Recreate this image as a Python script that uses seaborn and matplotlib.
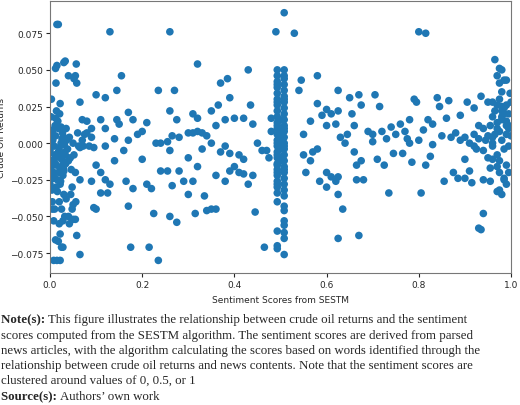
import matplotlib
matplotlib.use("Agg")
import matplotlib.pyplot as plt
import seaborn as sns
import pandas as pd

# left cluster (scores near 0)
left_x = [0.015,0.018,0.003,0.012,0.015,0.03,0.033,0.04,0.057,0.055,0.052,0.058,0.013,0.022,0.065,0.005,0.008,0.01,0.012,0.018,0.008,0.015,0.022,0.025,0.028,0.022,0.02,0.028,0.032,0.025,0.04,0.042,0.05,0.055,0.058,0.065,0.048,0.05,0.056,0.045,0.048,0.035,0.02,0.005,0.03,0.065,
          0.0,0.002,0.004,0.006,0.008,0.01,0.012,0.014,0.016,0.018,0.02,0.022,0.024,0.026,0.028,0.03,0.032,0.034,0.036,0.038,0.04,0.0,0.003,0.005,0.007,0.009,0.011,0.013,0.015,0.017,0.019,0.021,0.023,0.025,0.027,0.029,0.031,0.033,0.001,0.004,0.006,0.01,0.014,0.018,0.022,0.026,0.03,0.035,0.042,0.046,0.05,0.055,0.06,0.065,0.07,0.075,0.08,0.085,0.09,0.095,0.002,0.008,0.012,0.016,0.02,0.024,0.028,0.044,0.052,0.062,0.072]
left_y = [0.081,0.081,0.030,0.051,0.053,0.055,0.056,0.046,0.054,0.046,0.044,0.041,0.041,0.027,0.028,-0.045,-0.053,-0.045,-0.066,-0.067,-0.080,-0.080,-0.080,-0.071,-0.071,-0.062,-0.055,-0.053,-0.050,-0.045,-0.050,-0.055,-0.052,-0.052,-0.063,-0.076,-0.045,-0.042,-0.040,-0.035,-0.030,-0.038,-0.040,-0.040,-0.035,-0.025,
          -0.005,0.008,-0.012,0.002,-0.020,-0.008,0.005,-0.015,-0.025,0.010,-0.003,-0.018,0.000,-0.010,-0.022,0.004,-0.006,-0.014,0.002,-0.004,-0.012,-0.028,-0.016,0.006,-0.024,-0.002,0.012,-0.030,-0.009,0.015,-0.020,0.020,-0.026,-0.011,0.007,-0.017,-0.001,-0.008,0.002,-0.032,0.009,-0.013,0.022,-0.006,-0.028,0.003,-0.019,0.010,0.004,-0.018,0.000,-0.020,0.007,-0.003,0.002,0.006,0.007,-0.002,0.004,-0.003,0.018,-0.022,0.017,-0.033,-0.007,0.011,-0.015,-0.010,-0.008,-0.002,-0.002]

# scattered middle points
mid_x = [0.10,0.12,0.13,0.155,0.145,0.26,0.32,0.43,0.49,0.508,0.53,0.80,0.815,0.235,0.27,0.37,0.385,0.39,0.365,0.35,0.31,0.32,0.26,0.275,0.21,0.17,0.18,0.145,0.15,0.11,0.08,0.07,0.09,0.12,0.2,0.19,0.23,0.24,0.255,0.265,0.28,0.3,0.31,0.32,0.33,0.34,0.36,0.38,0.4,0.42,0.435,0.44,0.45,0.46,0.47,0.475,0.48,0.48,
         0.10,0.11,0.09,0.095,0.1,0.11,0.125,0.12,0.13,0.14,0.165,0.17,0.175,0.18,0.21,0.215,0.22,0.225,0.235,0.24,0.255,0.26,0.265,0.275,0.28,0.29,0.3,0.31,0.315,0.32,0.335,0.34,0.35,0.36,0.36,0.38,0.39,0.4,0.41,0.42,0.43,0.44,0.445,0.465,0.2,0.26,0.33,0.37,0.39,0.41,0.42,0.35,0.38,0.3,0.16,0.12,0.17,0.14,
         0.54,0.545,0.58,0.58,0.59,0.6,0.61,0.6,0.565,0.55,0.55,0.565,0.57,0.555,0.58,0.585,0.6,0.6,0.61,0.62,0.625,0.625,0.62,0.625,0.625,0.635,0.625,0.65,0.655,0.66,0.645,0.66,0.665,0.665,0.67,0.67,0.675,0.675,0.68,0.69,0.7,0.705,0.71,0.715,0.72,0.725,0.73,0.735,0.74,0.745,0.75,0.76,0.765,0.77,0.775,0.78,0.785,0.79,0.795,0.8,0.805,0.81,0.815,0.82,0.825,0.83,0.84,0.845,0.85,0.855,0.86,0.865,0.87,0.875,0.885,0.89,0.9,0.905,0.91,0.9,0.915,0.92,0.925,0.93,0.935,0.94,0.935,0.94,0.955,0.955,0.96,0.83,0.78,0.7,0.64,0.63]
mid_y = [0.033,0.031,0.076,0.046,0.036,0.076,0.054,0.050,0.076,0.089,0.075,0.076,0.075,0.036,0.036,0.041,0.044,0.031,0.026,0.022,0.020,0.017,0.022,0.016,0.014,0.021,0.016,0.016,0.013,0.016,0.015,0.016,0.010,0.010,0.008,0.006,0.000,0.000,0.001,0.005,0.004,0.007,0.007,0.008,0.007,0.005,0.012,0.016,0.017,0.017,0.026,0.013,0.000,-0.005,-0.005,-0.010,0.017,0.008,
         -0.015,-0.020,-0.026,-0.044,-0.045,-0.034,-0.034,-0.025,-0.028,-0.012,-0.026,-0.043,-0.071,-0.031,-0.028,-0.071,-0.031,-0.048,-0.080,-0.019,-0.019,-0.050,-0.029,-0.054,-0.019,-0.026,-0.035,-0.026,-0.048,-0.016,-0.036,-0.046,-0.045,-0.045,-0.022,-0.026,-0.019,-0.016,-0.020,-0.021,-0.028,-0.022,-0.047,-0.071,-0.011,-0.005,-0.004,-0.006,-0.007,-0.008,-0.011,0.000,-0.002,-0.010,-0.005,-0.002,0.002,0.003,
         0.036,0.043,0.046,0.027,0.019,0.023,0.020,0.012,0.015,0.006,-0.008,-0.012,-0.006,-0.020,-0.004,-0.026,-0.030,-0.020,-0.023,-0.026,-0.023,-0.035,0.013,0.022,0.036,-0.045,-0.065,0.031,0.020,0.012,0.006,-0.006,-0.015,-0.025,-0.063,0.033,0.026,-0.012,-0.025,0.008,0.001,0.033,-0.011,0.025,0.008,-0.015,0.003,-0.034,0.011,-0.007,0.006,0.013,-0.007,0.008,0.003,0.016,-0.013,0.030,0.028,0.002,-0.034,0.009,-0.015,0.016,-0.009,0.013,0.031,0.025,0.005,-0.026,0.017,0.029,0.004,-0.020,-0.024,0.019,-0.011,0.028,-0.019,-0.024,-0.027,0.024,-0.004,-0.058,-0.059,-0.048,0.032,-0.025,-0.026,-0.017,-0.011,-0.001,0.000,0.006,0.000,0.004]

# middle column (scores near 0.5)
col_x = [0.493]*34 + [0.508]*34 + [0.50]*8
col_y = [0.050,0.046,0.042,0.038,0.034,0.030,0.026,0.022,0.018,0.014,0.010,0.006,0.002,-0.002,-0.006,-0.010,-0.014,-0.018,-0.022,-0.026,-0.030,-0.034,-0.040,-0.060,-0.070,-0.072,0.040,0.028,0.012,0.000,-0.008,-0.020,-0.028,-0.015,
         0.050,0.044,0.040,0.036,0.032,0.028,0.024,0.020,0.016,0.012,0.008,0.004,0.000,-0.004,-0.008,-0.012,-0.016,-0.020,-0.024,-0.028,-0.032,-0.036,-0.043,-0.046,-0.053,-0.056,-0.061,-0.065,-0.076,0.046,0.030,0.010,-0.002,-0.018,
         0.016,0.006,0.000,-0.010,0.008,-0.004,0.002,-0.012]

# right cluster (scores near 1)
right_x = [0.965,0.975,0.98,0.97,0.985,0.99,0.975,0.98,0.998,0.96,0.95,0.94,0.945,0.95,0.955,0.96,0.965,0.97,0.975,0.98,0.985,0.99,0.995,1.0,0.96,0.965,0.97,0.975,0.98,0.985,0.99,0.995,1.0,0.94,0.95,0.96,0.97,0.975,0.98,0.985,0.99,0.995,0.96,0.97,0.98,0.99,0.97,0.975,0.985,0.99,0.995,0.975,0.98,0.985,0.99,0.97,0.98,0.995,0.92,0.93,0.91,0.9,0.89,0.88,0.93,0.92]
right_y = [0.057,0.051,0.050,0.046,0.043,0.043,0.041,0.035,0.034,0.028,0.028,0.010,0.002,0.005,0.012,0.018,0.022,0.026,0.030,0.025,0.020,0.015,0.010,0.005,-0.002,0.006,0.014,0.008,0.002,-0.004,0.012,0.020,0.028,-0.005,-0.010,0.000,-0.008,-0.012,0.016,0.024,0.006,-0.002,0.004,0.010,0.018,0.026,-0.016,-0.020,-0.024,-0.028,-0.020,-0.032,-0.035,-0.025,-0.015,-0.033,0.022,0.012,0.006,0.003,0.000,0.004,0.002,0.007,0.012,-0.002]

df = pd.DataFrame({
    "score": left_x + mid_x + col_x + right_x,
    "ret": left_y + mid_y + col_y + right_y,
})

sns.set_style("ticks")
plt.rcParams['font.family'] = ['DejaVu Sans']
fig = plt.figure(figsize=(5.2, 4.06), dpi=100)
ax = fig.add_axes([50/520, 132/406, 461/520, 272/406])
sns.scatterplot(data=df, x="score", y="ret", ax=ax, s=30, color="#1f77b4", edgecolor="none", linewidth=0)
ax.set_xlim(0, 1.0)
ax.set_ylim(-0.0886, 0.097)
ax.set_xticks([0, 0.2, 0.4, 0.6, 0.8, 1.0])
ax.set_xticklabels(["0.0", "0.2", "0.4", "0.6", "0.8", "1.0"])
ax.set_yticks([-0.075, -0.05, -0.025, 0, 0.025, 0.05, 0.075])
ax.set_yticklabels(["\u22120.075", "\u22120.050", "\u22120.025", "0.000", "0.025", "0.050", "0.075"])
ax.tick_params(labelsize=6.5, length=3, pad=2)
ax.set_xlabel("Sentiment Scores from SESTM", fontsize=6.5)
ax.set_ylabel("Crude Oil Returns", fontsize=6.5)
ax.xaxis.set_label_coords(0.5, -(296 - 274) / 272)
ax.yaxis.set_label_coords(-(50 - 6) / 461, 0.5)
for s in ax.spines.values():
    s.set_color("#777777")

serif = ['Liberation Serif']
lines = [
    ("Note(s): ", "This figure illustrates the relationship between crude oil returns and the sentiment"),
    ("", "scores computed from the SESTM algorithm. The sentiment scores are derived from parsed"),
    ("", "news articles, with the algorithm calculating the scores based on words identified through the"),
    ("", "relationship between crude oil returns and news contents. Note that the sentiment scores are"),
    ("", "clustered around values of 0, 0.5, or 1"),
    ("Source(s): ", "Authors\u2019 own work"),
]
ys = [320, 336, 351, 366, 381, 397]
fs = 9.3
for (b, t), yp in zip(lines, ys):
    y = 1 - yp/406
    x0 = 1/520
    if b:
        tb = fig.text(x0, y, b, fontsize=fs, fontweight="bold", family=serif, va="center")
        fig.canvas.draw()
        bb = tb.get_window_extent()
        x0 = bb.x1/520
    fig.text(x0, y, t, fontsize=fs, family=serif, va="center")

fig.savefig("out.png", dpi=100)
